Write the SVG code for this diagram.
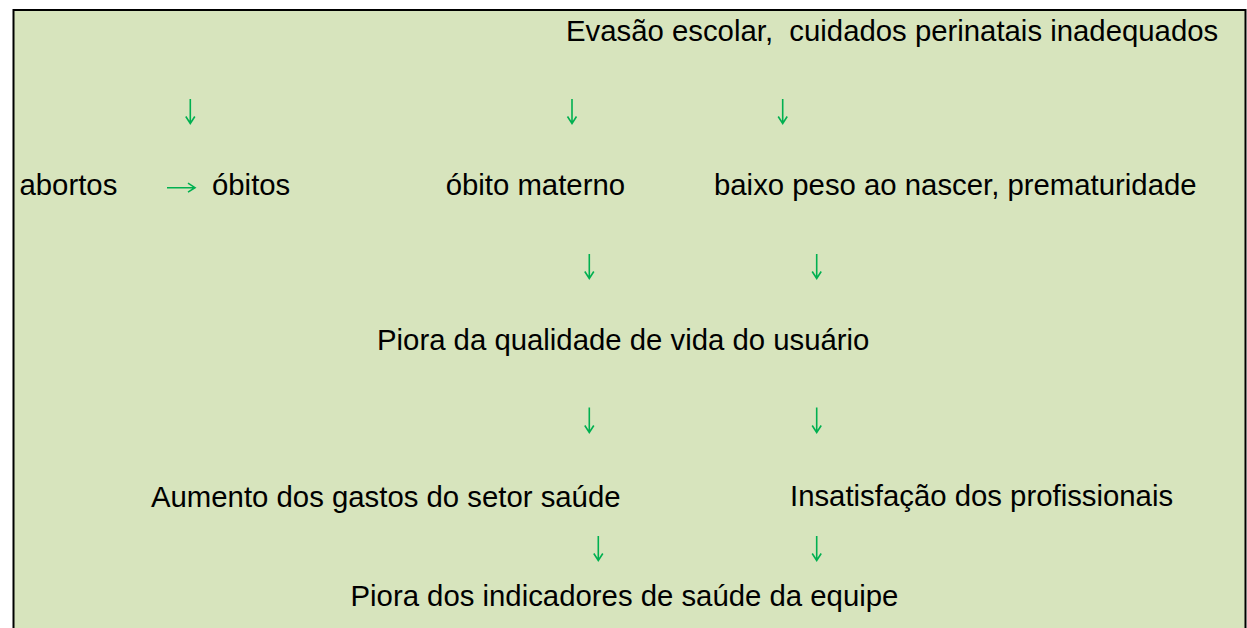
<svg xmlns="http://www.w3.org/2000/svg" width="1247" height="628" viewBox="0 0 1247 628">
  <style>
    .t { font-family: "Liberation Sans", Arial, sans-serif; font-size: 29.33px; fill: #000; }
    .a { fill: none; stroke: #00B050; stroke-width: 1.6; stroke-linecap: butt; stroke-linejoin: miter; }
  </style>
  <rect x="0" y="0" width="1247" height="628" fill="#ffffff"/>
  <path d="M13.5,640 V10 H1245.5 V640" fill="#D7E4BD" stroke="#000" stroke-width="2"/>

  <g id="connectors">
    <!-- row 1 down arrows -->
    <path class="a" d="M190.3,99 V123.5 M185.8,116.5 L190.3,123.5 L194.8,116.5"/>
    <path class="a" d="M572,99 V123.5 M567.5,116.5 L572,123.5 L576.5,116.5"/>
    <path class="a" d="M782.7,99 V123.5 M778.2,116.5 L782.7,123.5 L787.2,116.5"/>
    <!-- right arrow abortos -> óbitos -->
    <path class="a" d="M167,187.7 H195 M188,183.2 L195,187.7 L188,192.2"/>
    <!-- row 2 down arrows -->
    <path class="a" d="M589.3,254 V278.5 M584.8,271.5 L589.3,278.5 L593.8,271.5"/>
    <path class="a" d="M816.7,254 V278.5 M812.2,271.5 L816.7,278.5 L821.2,271.5"/>
    <!-- row 3 down arrows -->
    <path class="a" d="M589.3,407.5 V432.5 M584.8,425.5 L589.3,432.5 L593.8,425.5"/>
    <path class="a" d="M816.7,407.5 V432.5 M812.2,425.5 L816.7,432.5 L821.2,425.5"/>
    <!-- row 4 down arrows -->
    <path class="a" d="M598.3,536 V560.5 M593.8,553.5 L598.3,560.5 L602.8,553.5"/>
    <path class="a" d="M816.7,536 V560.5 M812.2,553.5 L816.7,560.5 L821.2,553.5"/>
  </g>

  <g id="n-evasao"><text class="t" x="566" y="41" xml:space="preserve">Evasão escolar,  cuidados perinatais inadequados</text></g>
  <g id="n-abortos"><text class="t" x="19.5" y="195">abortos</text></g>
  <g id="n-obitos"><text class="t" x="212" y="195">óbitos</text></g>
  <g id="n-obito-materno"><text class="t" x="445.7" y="195">óbito materno</text></g>
  <g id="n-baixo-peso"><text class="t" x="714" y="195">baixo peso ao nascer, prematuridade</text></g>
  <g id="n-piora-qualidade"><text class="t" x="377" y="350">Piora da qualidade de vida do usuário</text></g>
  <g id="n-aumento-gastos"><text class="t" x="151" y="506.5">Aumento dos gastos do setor saúde</text></g>
  <g id="n-insatisfacao"><text class="t" x="790" y="505.5">Insatisfação dos profissionais</text></g>
  <g id="n-piora-indicadores"><text class="t" x="350.5" y="606">Piora dos indicadores de saúde da equipe</text></g>
</svg>
